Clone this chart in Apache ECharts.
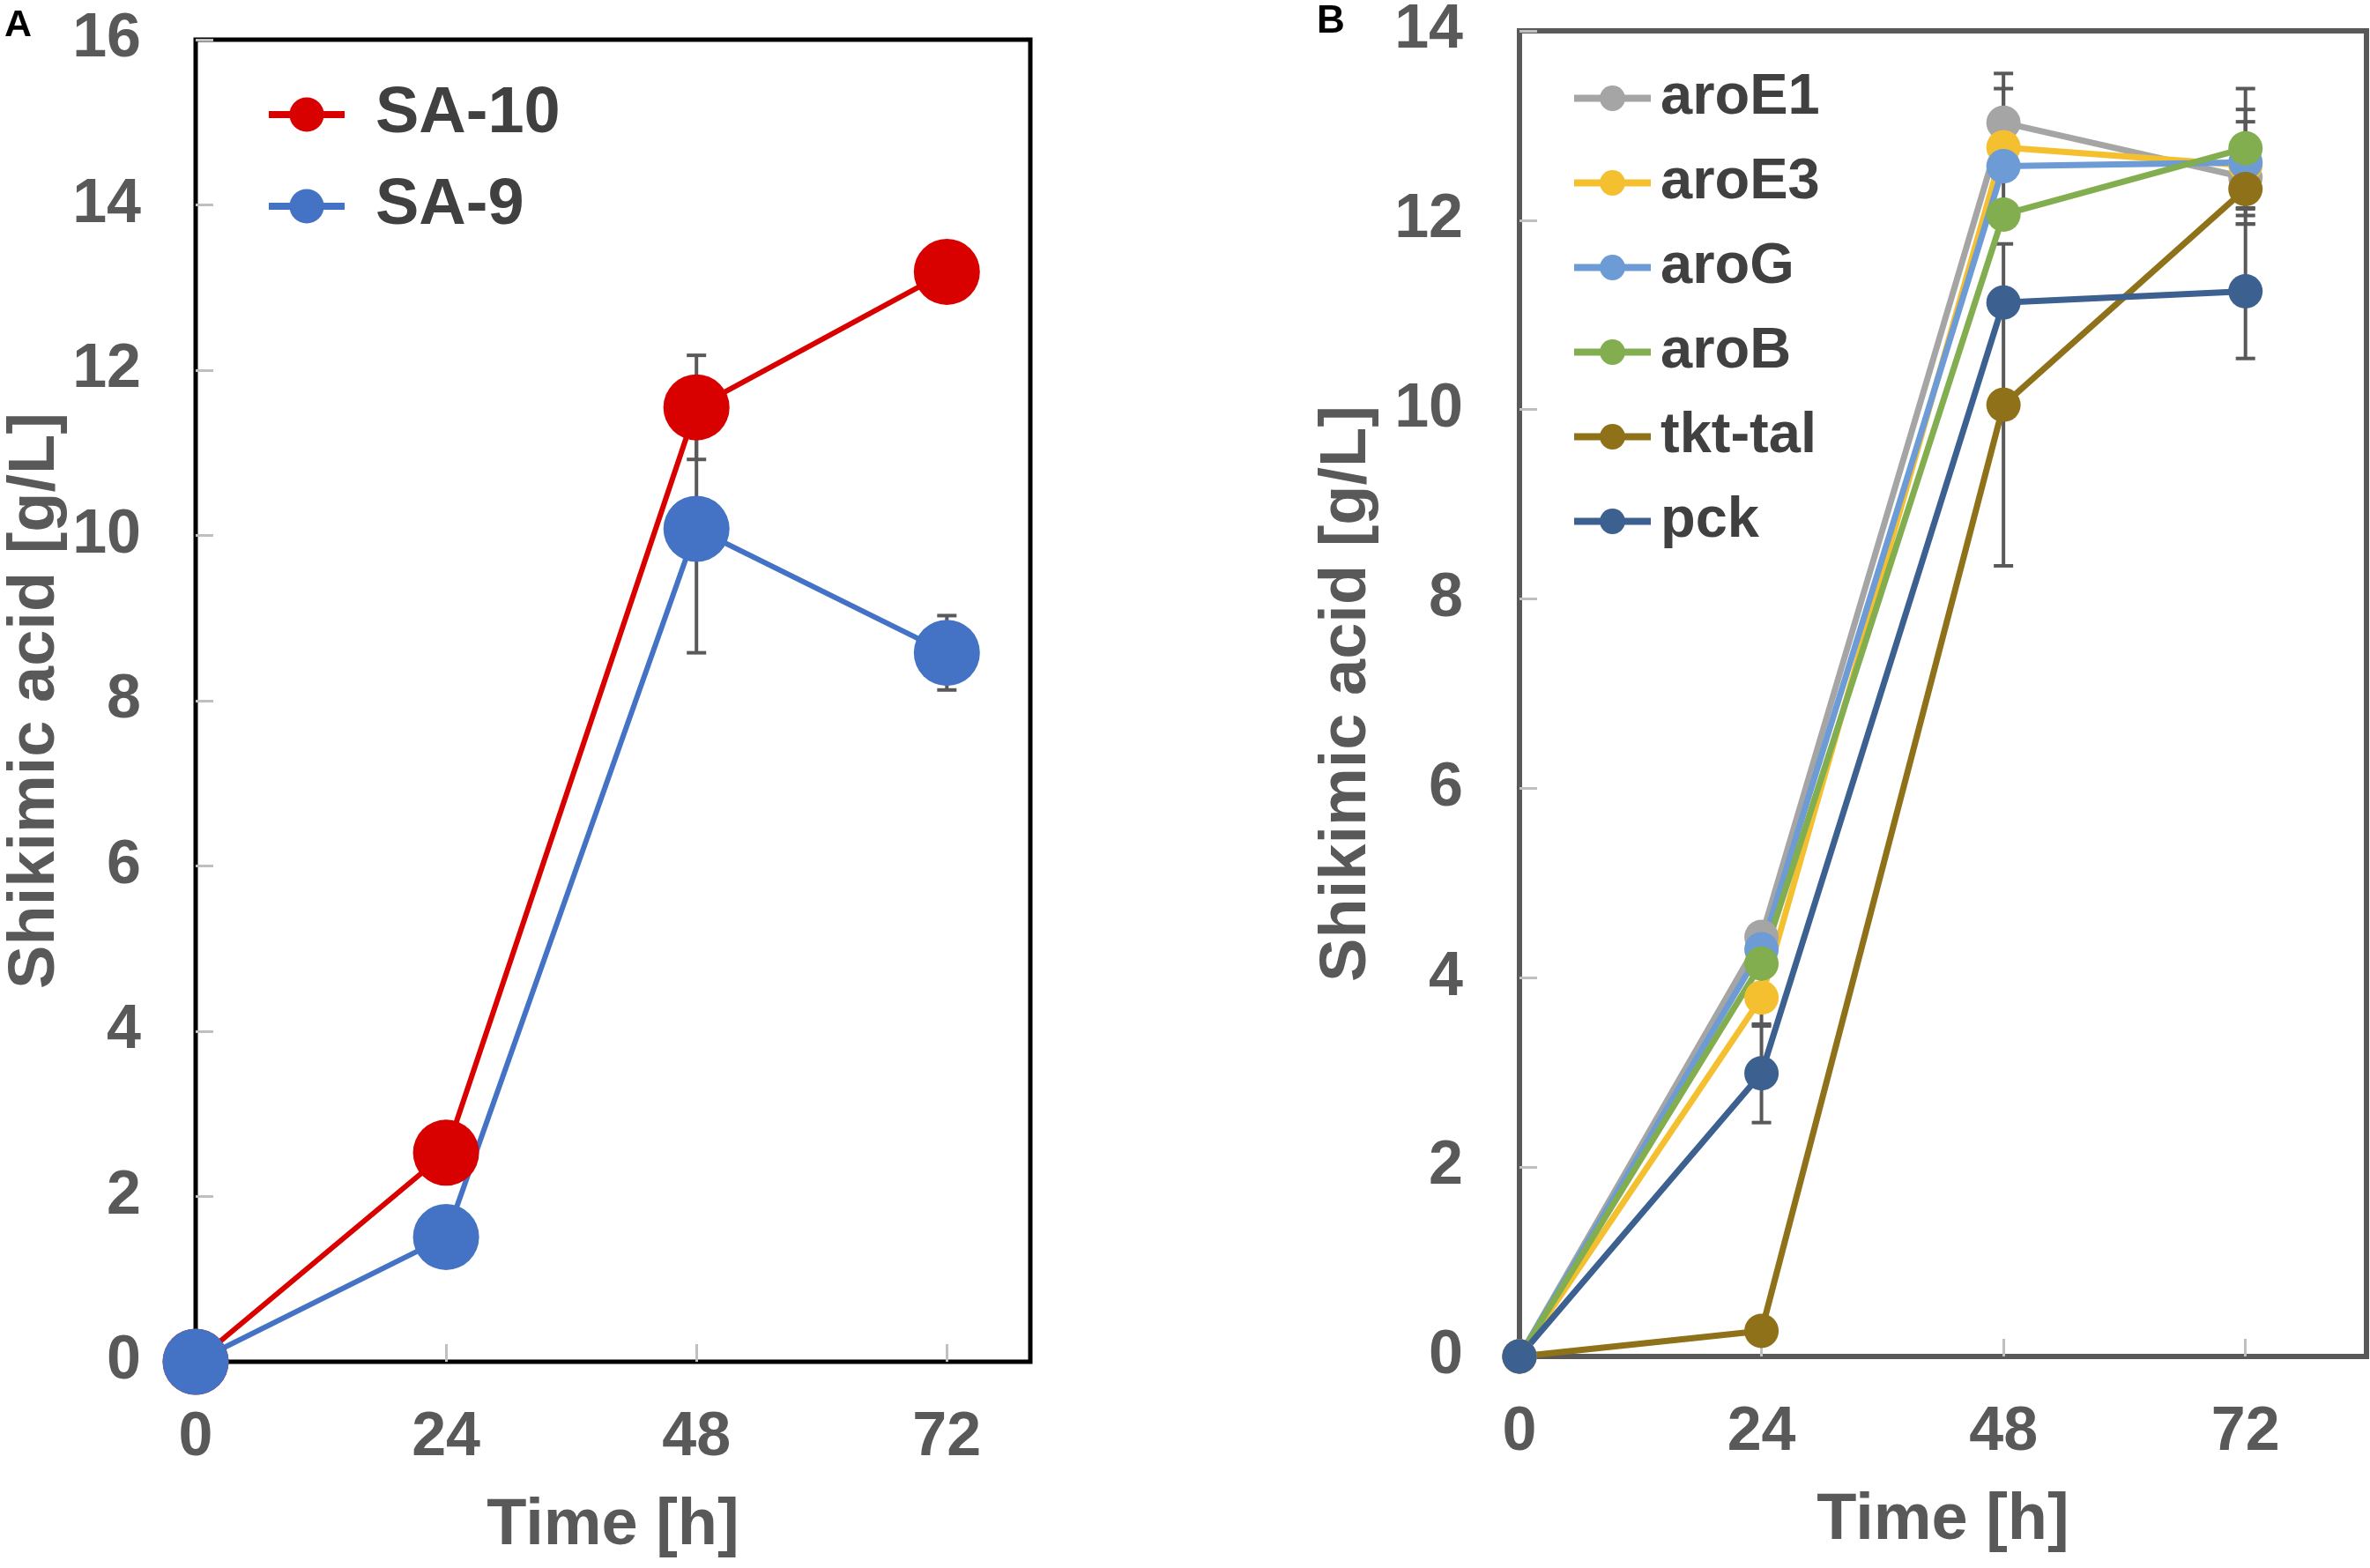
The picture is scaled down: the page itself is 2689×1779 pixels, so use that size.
<!DOCTYPE html>
<html>
<head>
<meta charset="utf-8">
<script src="https://cdn.jsdelivr.net/npm/echarts@6/dist/echarts.min.js"></script>
<style>
html,body{margin:0;padding:0;background:#fff;}
#c{width:2689px;height:1779px;}
</style>
</head>
<body>
<div id="c"></div>
<script>
// ---------- data ----------
const timeTicks = [0, 24, 48, 72];

// Panel A
const timeA = [0, 24, 48, 72];
const sa10 = [0, 2.53, 11.55, 13.19];
const sa10Err = [0, 0, 0.63, 0];
const sa9 = [0, 1.51, 10.08, 8.58];
const sa9Err = [0, 0, 1.5, 0.45];

// Panel B
const timeB = [0, 24, 48, 72];
const aroE1 = [0, 4.43, 13.03, 12.45];
const aroE1Err = [0, 0, 0.52, 0];
const aroE3 = [0, 3.79, 12.77, 12.58];
const aroE3Err = [0, 0.3, 0.62, 0.46];
const aroG = [0, 4.3, 12.57, 12.61];
const aroGErr = [0, 0, 0, 0.56];
const aroB = [0, 4.15, 12.06, 12.76];
const aroBErr = [0, 0, 0, 0.63];
const tktTal = [0, 0.27, 10.05, 12.33];
const tktTalErr = [0, 0, 1.7, 0.37];
const pck = [0, 2.99, 11.13, 11.25];
const pckErr = [0, 0.52, 0, 0.71];

const FONT = '"Liberation Sans", Arial, sans-serif';
const LABEL_COLOR = '#595959';

function pairs(xs, ys) { return xs.map((x, i) => [x, ys[i]]); }
function triples(xs, ys, es) { return xs.map((x, i) => [x, ys[i], es[i]]); }

function errSeries(idx, xs, ys, es) {
  return {
    type: 'custom',
    xAxisIndex: idx, yAxisIndex: idx,
    z: 1,
    silent: true,
    encode: { x: 0, y: 1 },
    data: triples(xs, ys, es),
    renderItem: function (params, api) {
      const x = api.value(0), y = api.value(1), e = api.value(2);
      if (!e) return null;
      const t = api.coord([x, y + e]);
      const b = api.coord([x, y - e]);
      const hw = 11;
      const st = { stroke: '#595959', lineWidth: 4 };
      return {
        type: 'group',
        children: [
          { type: 'line', shape: { x1: t[0], y1: t[1], x2: b[0], y2: b[1] }, style: st },
          { type: 'line', shape: { x1: t[0] - hw, y1: t[1], x2: t[0] + hw, y2: t[1] }, style: st },
          { type: 'line', shape: { x1: b[0] - hw, y1: b[1], x2: b[0] + hw, y2: b[1] }, style: st }
        ]
      };
    }
  };
}

function lineSeries(idx, name, color, xs, ys, size, width) {
  return {
    type: 'line',
    name: name,
    xAxisIndex: idx, yAxisIndex: idx,
    z: 2,
    data: pairs(xs, ys),
    symbol: 'circle',
    symbolSize: size,
    showAllSymbol: true,
    clip: false,
    lineStyle: { color: color, width: width },
    itemStyle: { color: color },
    emphasis: { disabled: true }
  };
}

function xAxisCfg(idx, max) {
  return {
    type: 'value', gridIndex: idx, min: 0, max: max,
    name: 'Time [h]', nameLocation: 'middle', nameGap: 150,
    nameTextStyle: { fontFamily: FONT, fontWeight: 'bold', fontSize: 74, color: LABEL_COLOR },
    axisLine: { show: false },
    axisTick: { show: true, inside: true, length: 20, customValues: timeTicks,
      lineStyle: { color: '#bfbfbf', width: 3 } },
    axisLabel: { customValues: timeTicks, margin: 52, fontFamily: FONT, fontWeight: 'bold',
      fontSize: 70, color: LABEL_COLOR },
    splitLine: { show: false }
  };
}

function yAxisCfg(idx, max, margin, gap) {
  return {
    type: 'value', gridIndex: idx, min: 0, max: max, interval: 2,
    name: 'Shikimic acid [g/L]', nameLocation: 'middle', nameGap: gap,
    nameTextStyle: { fontFamily: FONT, fontWeight: 'bold', fontSize: 74, color: LABEL_COLOR },
    axisLine: { show: false },
    axisTick: { show: true, inside: true, length: 20, lineStyle: { color: '#bfbfbf', width: 3 } },
    axisLabel: { margin: margin, fontFamily: FONT, fontWeight: 'bold', fontSize: 70, color: LABEL_COLOR },
    splitLine: { show: false }
  };
}

const colorsB = {
  aroE1: '#A5A5A5', aroE3: '#F4C030', aroG: '#6C9BD6',
  aroB: '#82AE50', tktTal: '#8E7119', pck: '#3C6090'
};

const option = {
  animation: false,
  backgroundColor: '#ffffff',
  grid: [
    { left: 222, top: 45, width: 947, height: 1500, show: true, borderColor: '#000000', borderWidth: 5, backgroundColor: 'transparent' },
    { left: 1724, top: 34, width: 961, height: 1505, show: true, borderColor: '#595959', borderWidth: 6, backgroundColor: 'transparent' }
  ],
  xAxis: [xAxisCfg(0, 80), xAxisCfg(1, 84)],
  yAxis: [yAxisCfg(0, 16, 62, 144), yAxisCfg(1, 14, 64, 158)],
  legend: [
    {
      orient: 'vertical', left: 296, top: 88,
      itemWidth: 86, itemHeight: 49, itemGap: 30,
      data: ['SA-10', 'SA-9'],
      lineStyle: { width: 8 },
      textStyle: { fontFamily: FONT, fontWeight: 'bold', fontSize: 74, lineHeight: 74, color: '#404040', padding: [0, 0, 0, 30] },
      selectedMode: false
    },
    {
      orient: 'vertical', left: 1777, top: 74,
      itemWidth: 87, itemHeight: 36, itemGap: 31,
      data: ['aroE1', 'aroE3', 'aroG', 'aroB', 'tkt-tal', 'pck'],
      lineStyle: { width: 8 },
      textStyle: { fontFamily: FONT, fontWeight: 'bold', fontSize: 65, lineHeight: 65, color: '#404040', padding: [0, 0, 0, 6] },
      selectedMode: false
    }
  ],
  graphic: [
    { type: 'text', left: 5, top: 8, style: { text: 'A', font: 'bold 43px ' + FONT, fill: '#000' } },
    { type: 'text', left: 1494, top: 3, style: { text: 'B', font: 'bold 44px ' + FONT, fill: '#000' } }
  ],
  series: [
    errSeries(0, timeA, sa10, sa10Err),
    errSeries(0, timeA, sa9, sa9Err),
    lineSeries(0, 'SA-10', '#D90000', timeA, sa10, 75, 6),
    lineSeries(0, 'SA-9', '#4472C4', timeA, sa9, 75, 6),

    errSeries(1, timeB, aroE1, aroE1Err),
    errSeries(1, timeB, aroE3, aroE3Err),
    errSeries(1, timeB, aroG, aroGErr),
    errSeries(1, timeB, aroB, aroBErr),
    errSeries(1, timeB, tktTal, tktTalErr),
    errSeries(1, timeB, pck, pckErr),
    lineSeries(1, 'aroE1', colorsB.aroE1, timeB, aroE1, 39, 7),
    lineSeries(1, 'aroE3', colorsB.aroE3, timeB, aroE3, 39, 7),
    lineSeries(1, 'aroG', colorsB.aroG, timeB, aroG, 39, 7),
    lineSeries(1, 'aroB', colorsB.aroB, timeB, aroB, 39, 7),
    lineSeries(1, 'tkt-tal', colorsB.tktTal, timeB, tktTal, 39, 7),
    lineSeries(1, 'pck', colorsB.pck, timeB, pck, 39, 7)
  ]
};

const chart = echarts.init(document.getElementById('c'), null, { renderer: 'canvas' });
chart.setOption(option);
</script>
</body>
</html>
